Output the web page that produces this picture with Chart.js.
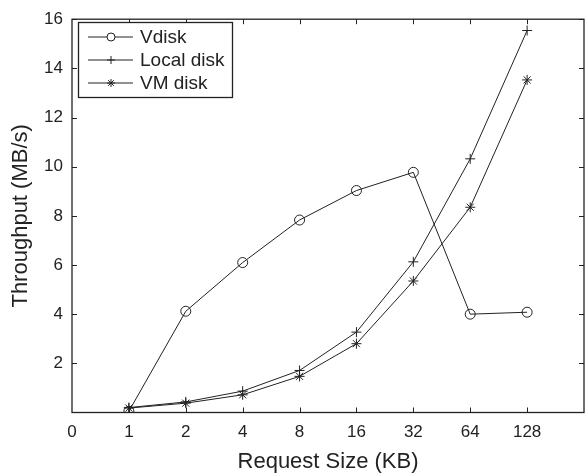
<!DOCTYPE html>
<html>
<head>
  <title>Throughput vs Request Size</title>
  <script src="https://cdn.jsdelivr.net/npm/chart.js"></script>
  <style>
    html, body { margin: 0; padding: 0; background: #fff; overflow: hidden; }
    #wrap { width: 590px; height: 475px; }
  </style>
</head>
<body>
  <div id="wrap"><canvas id="tputChart" width="590" height="475"></canvas></div>

  <script>
    // request sizes in KB, plotted at evenly spaced positions 1..8
    const sizeLabels = ["0", "1", "2", "4", "8", "16", "32", "64", "128"];
    const vdisk = [0.05, 4.12, 6.1, 7.83, 9.03, 9.77, 4.0, 4.08];
    const localDisk = [0.2, 0.43, 0.87, 1.71, 3.27, 6.13, 10.32, 15.54];
    const vmDisk = [0.18, 0.38, 0.72, 1.47, 2.8, 5.35, 8.35, 13.53];
    const yTicks = [2, 4, 6, 8, 10, 12, 14, 16];

    const FONT = "'Liberation Sans', Arial, sans-serif";
    const INK = "#222";

    const toPoints = arr => arr.map((v, i) => ({ x: i + 1, y: v }));

    const series = [
      { label: "Vdisk", data: toPoints(vdisk), pointStyle: "circle", pointRadius: 5 },
      { label: "Local disk", data: toPoints(localDisk), pointStyle: "cross", pointRadius: 5 },
      { label: "VM disk", data: toPoints(vmDisk), pointStyle: "star", pointRadius: 5 },
    ];

    // MATLAB-ish frame, inward ticks, axis titles and boxed legend
    const matlabFrame = {
      id: "matlabFrame",
      afterDraw(chart) {
        const { ctx, chartArea: a, scales } = chart;
        ctx.save();
        ctx.strokeStyle = INK;
        ctx.lineWidth = 1.3;
        ctx.strokeRect(a.left, a.top, a.right - a.left, a.bottom - a.top);

        const tl = 5;
        ctx.lineWidth = 1;
        ctx.beginPath();
        for (let i = 1; i <= 8; i++) {
          const x = Math.round(scales.x.getPixelForValue(i)) + 0.5;
          ctx.moveTo(x, a.bottom); ctx.lineTo(x, a.bottom - tl);
          ctx.moveTo(x, a.top); ctx.lineTo(x, a.top + tl);
        }
        yTicks.forEach(v => {
          const y = Math.round(scales.y.getPixelForValue(v)) + 0.5;
          ctx.moveTo(a.left, y); ctx.lineTo(a.left + tl, y);
          ctx.moveTo(a.right, y); ctx.lineTo(a.right - tl, y);
        });
        ctx.stroke();

        // axis titles, centred on the axes box like MATLAB does
        ctx.fillStyle = INK;
        ctx.font = "22px " + FONT;
        ctx.textAlign = "center";
        ctx.textBaseline = "middle";
        ctx.fillText("Request Size (KB)", (a.left + a.right) / 2, 462);
        ctx.save();
        ctx.translate(21, (a.top + a.bottom) / 2);
        ctx.rotate(-Math.PI / 2);
        ctx.fillText("Throughput (MB/s)", 0, 0);
        ctx.restore();

        // legend box
        const lx = 78, ly = 22, lw = 154, lh = 75;
        ctx.fillStyle = "#fff";
        ctx.fillRect(lx, ly, lw, lh);
        ctx.lineWidth = 1.3;
        ctx.strokeRect(lx + 0.5, ly + 0.5, lw, lh);
        ctx.font = "19px " + FONT;
        ctx.textAlign = "left";
        series.forEach((s, i) => {
          const y = ly + 15 + i * 23;
          ctx.strokeStyle = INK;
          ctx.lineWidth = 1;
          ctx.beginPath();
          ctx.moveTo(88, y); ctx.lineTo(133, y);
          ctx.stroke();
          Chart.helpers.drawPoint(ctx, {
            pointStyle: s.pointStyle, radius: s.pointRadius - 1, borderWidth: 1, rotation: 0
          }, 111, y);
          ctx.fillStyle = INK;
          ctx.fillText(s.label, 140, y + 1);
        });
        ctx.restore();
      }
    };

    const ctx = document.getElementById("tputChart").getContext("2d");
    new Chart(ctx, {
      type: "line",
      data: {
        datasets: series.map(s => ({
          label: s.label,
          data: s.data,
          borderColor: INK,
          borderWidth: 1,
          backgroundColor: "rgba(0,0,0,0)",
          pointStyle: s.pointStyle,
          pointRadius: s.pointRadius,
          pointBorderColor: INK,
          pointBorderWidth: 1,
          pointBackgroundColor: "rgba(0,0,0,0)",
          tension: 0,
          fill: false,
        })),
      },
      options: {
        responsive: false,
        animation: false,
        layout: { padding: { top: 15, right: 1, left: 0, bottom: 0 } },
        plugins: { legend: { display: false }, tooltip: { enabled: false } },
        scales: {
          x: {
            type: "linear",
            min: 0,
            max: 9,
            grid: { display: false, drawTicks: false },
            border: { display: false },
            afterFit: s => { s.height = 62.5; },
            afterBuildTicks: s => { s.ticks = sizeLabels.map((_, i) => ({ value: i })); },
            ticks: {
              autoSkip: false,
              maxRotation: 0,
              padding: 10,
              color: INK,
              font: { family: FONT, size: 17 },
              callback: v => sizeLabels[v] ?? "",
            },
          },
          y: {
            min: 0,
            max: 16,
            grid: { display: false, drawTicks: false },
            border: { display: false },
            afterFit: s => { s.width = 72; },
            afterBuildTicks: s => { s.ticks = yTicks.map(v => ({ value: v })); },
            ticks: {
              padding: 9,
              color: INK,
              font: { family: FONT, size: 17 },
            },
          },
        },
      },
      plugins: [matlabFrame],
    });
  </script>
</body>
</html>
